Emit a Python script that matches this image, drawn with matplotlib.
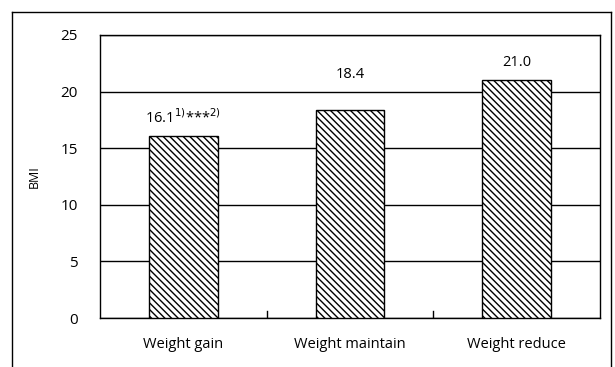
import matplotlib.pyplot as plt

categories = ["Weight gain", "Weight maintain", "Weight reduce"]
bmi = [16.1, 18.4, 21.0]
bar_labels = [r"16.1$^{1)}$***$^{2)}$", "18.4", "21.0"]
yticks = [0, 5, 10, 15, 20, 25]

plt.rcParams["font.family"] = ["Open Sans", "DejaVu Sans"]
plt.rcParams["hatch.linewidth"] = 1.0

fig = plt.figure(figsize=(6.15, 3.67), dpi=100)
ax = fig.add_axes([100 / 615, 1 - 318 / 367, 500 / 615, 283 / 367])

x = range(len(categories))
hatches = ["\\" * 5, "\\" * 5, "\\" * 5]
bars = ax.bar(x, bmi, width=0.41, color="white", edgecolor="black",
              linewidth=1.0, zorder=3)
for b, h in zip(bars, hatches):
    b.set_hatch(h)

# value labels above bars
offsets = [1.6, 3.1, 1.6]
for i, (v, lab) in enumerate(zip(bmi, bar_labels)):
    ax.text(i, v + offsets[i], lab, ha="center", va="center", fontsize=10.5)

ax.set_xlim(-0.5, 2.5)
ax.set_ylim(0, 25)
ax.set_yticks(yticks)
ax.yaxis.grid(True, color="black", linewidth=1.0, zorder=0)
ax.set_axisbelow(True)
ax.tick_params(axis="y", length=0, pad=16, labelsize=11)
ax.set_xticks(list(x))
ax.set_xticklabels(categories, fontsize=10.5)
ax.tick_params(axis="x", length=0, pad=14)
# small separators between categories
for sep in [0.5, 1.5]:
    ax.plot([sep, sep], [0, 0.6], color="black", linewidth=1.0, zorder=4)

for s in ax.spines.values():
    s.set_linewidth(1.0)
    s.set_color("black")

ax.set_ylabel("BMI", fontsize=9, labelpad=14)

# outer frame, open at the bottom
fig.add_artist(plt.Line2D([12 / 615, 12 / 615], [0, 1 - 12 / 367],
                          color="black", linewidth=1.0))
fig.add_artist(plt.Line2D([12 / 615, 611 / 615], [1 - 12 / 367, 1 - 12 / 367],
                          color="black", linewidth=1.0))
fig.add_artist(plt.Line2D([611 / 615, 611 / 615], [0, 1 - 12 / 367],
                          color="black", linewidth=1.0))

fig.savefig("out.png", dpi=100)
